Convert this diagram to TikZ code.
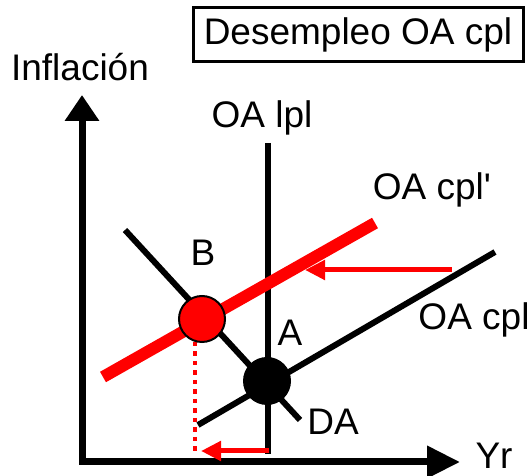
\documentclass[tikz,border=0pt]{standalone}
\usepackage{fontspec}
\setmainfont{Liberation Sans}
\usetikzlibrary{arrows.meta}

\tikzset{
  lbl/.style={font=\fontsize{37}{40}\selectfont, inner sep=0pt},
  curve/.style={line width=6pt},
  shiftarrow/.style={red, line width=5pt, -{Triangle[length=20pt,width=19pt]}}
}

\begin{document}
\begin{tikzpicture}[x=1pt,y=1pt]
\useasboundingbox (-82,-14) rectangle (448,462);

\coordinate (o) at (0,0);
\coordinate (ytip) at (0,367);
\coordinate (xtip) at (378,0);
\coordinate (lpl1) at (186,319);
\coordinate (lpl2) at (186,8);
\coordinate (cpl1) at (116,37);
\coordinate (cpl2) at (413,210);
\coordinate (da1) at (43,232);
\coordinate (da2) at (218,42);
\coordinate (cpln1) at (21,85);
\coordinate (cpln2) at (293,239);
\coordinate (d1) at (113,120);
\coordinate (d2) at (113,9);
\coordinate (s1) at (370,192);
\coordinate (s2) at (223,192);
\coordinate (t1) at (187,11);
\coordinate (t2) at (119,11);

% ejes
\draw[line width=7pt, {Triangle[length=26pt,width=33pt]}-{Triangle[length=33pt,width=31pt]}] (ytip) -- (o) -- (xtip);

\draw[curve] (lpl1) -- (lpl2);
\draw[curve] (cpl1) -- (cpl2);
\draw[curve] (da1) -- (da2);
\draw[red, line width=12pt] (cpln1) -- (cpln2);

\draw[red, line width=4pt, dash pattern=on 4.5pt off 5pt] (d1) -- (d2);
\draw[shiftarrow] (s1) -- (s2);
\draw[shiftarrow] (t1) -- (t2);

\node[circle, fill=black, minimum size=48pt, inner sep=0pt] (A) at (185,81) {};
\node[circle, fill=red, draw=black, line width=2pt, minimum size=46pt, inner sep=0pt] (B) at (120,143) {};

\node[lbl] (infl) at (-2,395) {Inflación};
\node[lbl, draw, line width=3pt, minimum width=330pt, minimum height=54pt] (title) at (276,427) {Desempleo OA cpl};
\node[lbl] (llpl) at (180,344) {OA lpl};
\node[lbl] (lcpln) at (350,272) {OA cpl\textquotesingle};
\node[lbl] (lB) at (121,209) {B};
\node[lbl] (lA) at (208,129) {A};
\node[lbl] (lDA) at (251,40) {DA};
\node[lbl] (lcpl) at (392,142) {OA cpl};
\node[lbl] (lYr) at (412,6) {Yr};
\end{tikzpicture}
\end{document}
